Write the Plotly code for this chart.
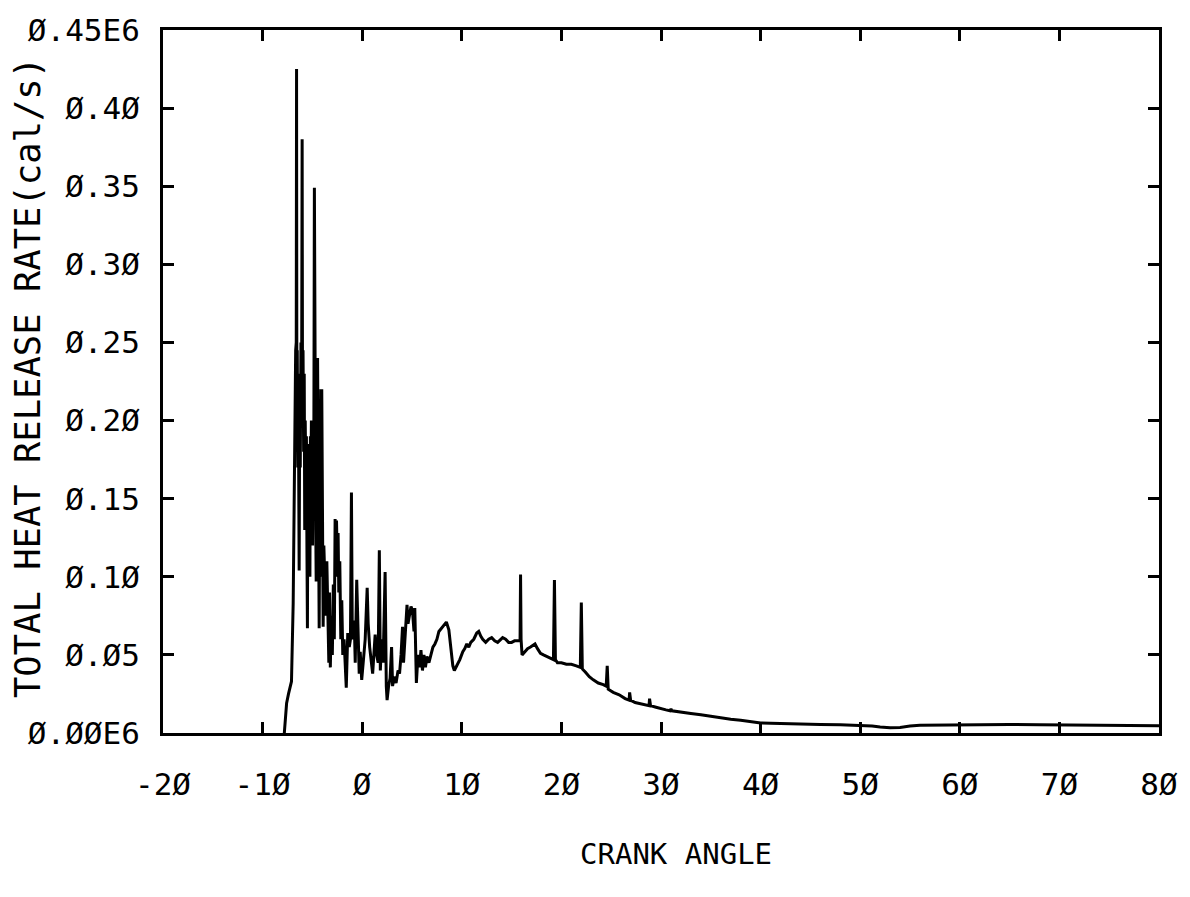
import plotly.graph_objects as go

# Crank angle (deg) and total heat release rate (units of 1E6 cal/s)
crank_angle = [
    -7.82, -7.7, -7.59, -7.4, -7.26, -7.1, -6.93, -6.85, -6.76, -6.68,
    -6.62, -6.59, -6.56, -6.52, -6.47, -6.42, -6.37, -6.33, -6.28, -6.22,
    -6.15, -6.08, -6.03, -5.99, -5.94, -5.88, -5.82, -5.77, -5.72, -5.66,
    -5.6, -5.55, -5.5, -5.45, -5.4, -5.35, -5.3, -5.25, -5.2, -5.15,
    -5.1, -5.05, -4.98, -4.92, -4.85, -4.8, -4.75, -4.7, -4.66, -4.62,
    -4.57, -4.52, -4.48, -4.43, -4.38, -4.32, -4.27, -4.2, -4.15, -4.1,
    -4.06, -4.0, -3.95, -3.92, -3.85, -3.75, -3.65, -3.55, -3.45, -3.35,
    -3.28, -3.2, -3.1, -3.0, -2.9, -2.8, -2.72, -2.65, -2.58, -2.5,
    -2.42, -2.35, -2.25, -2.15, -2.05, -1.95, -1.82, -1.6, -1.45, -1.3,
    -1.18, -1.08, -1.0, -0.9, -0.8, -0.7, -0.55, -0.45, -0.3, -0.2,
    -0.05, 0.1, 0.3, 0.5, 0.6, 0.75, 0.9, 1.05, 1.3, 1.45,
    1.6, 1.72, 1.82, 1.95, 2.1, 2.3, 2.42, 2.5, 2.65, 2.8,
    2.95, 3.05, 3.2, 3.4, 3.6, 3.75, 3.9, 4.05, 4.15, 4.3,
    4.5, 4.6, 4.75, 4.9, 5.05, 5.2, 5.28, 5.44, 5.6, 5.75,
    5.9, 6.05, 6.2, 6.35, 6.5, 6.7, 6.9, 7.1, 7.3, 7.5,
    7.7, 7.95, 8.2, 8.45, 8.7, 8.9, 9.1, 9.25, 9.5, 9.8,
    10.1, 10.3, 10.5, 10.7, 10.9, 11.2, 11.5, 11.7, 11.9, 12.1,
    12.4, 12.7, 13.0, 13.3, 13.6, 13.9, 14.1, 14.4, 14.7, 15.0,
    15.3, 15.7, 15.85, 15.9, 15.95, 16.05, 16.3, 16.6, 16.9, 17.2,
    17.35, 17.6, 17.9, 18.2, 18.6, 19.0, 19.2, 19.3, 19.4, 19.6,
    20.0, 20.5, 21.0, 21.5, 21.9, 22.0, 22.1, 22.4, 22.8, 23.2,
    23.7, 24.2, 24.5, 24.6, 24.7, 25.2, 25.8, 26.4, 26.8, 26.85,
    26.95, 27.4, 27.8, 28.3, 28.8, 28.85, 28.95, 29.5, 30.0, 30.5,
    30.9, 31.0, 31.1, 32.0, 33.0, 34.0, 35.0, 36.0, 37.0, 38.0,
    39.0, 40.0, 41.0, 42.0, 44.0, 46.0, 48.0, 50.0, 51.2, 52.0,
    53.0, 54.0, 55.0, 56.0, 58.0, 60.0, 62.0, 65.0, 68.0, 70.0,
    72.0, 75.0, 78.0, 80.0,
]
heat_release = [
    0.0, 0.01, 0.019, 0.025, 0.029, 0.033, 0.083, 0.15, 0.2, 0.245,
    0.25, 0.425, 0.2, 0.245, 0.17, 0.23, 0.15, 0.104, 0.2, 0.17,
    0.25, 0.22, 0.38, 0.2, 0.245, 0.18, 0.23, 0.13, 0.2, 0.16,
    0.19, 0.12, 0.067, 0.175, 0.14, 0.185, 0.13, 0.1, 0.19, 0.16,
    0.2, 0.15, 0.12, 0.19, 0.2, 0.349, 0.2, 0.24, 0.13, 0.097,
    0.24, 0.2, 0.24, 0.15, 0.11, 0.067, 0.14, 0.1, 0.22, 0.16,
    0.22, 0.125, 0.09, 0.068, 0.12, 0.1, 0.075, 0.11, 0.06, 0.045,
    0.09, 0.042, 0.075, 0.05, 0.095, 0.06, 0.137, 0.1, 0.136, 0.11,
    0.128, 0.09, 0.11, 0.06, 0.085, 0.05, 0.06, 0.029, 0.064, 0.055,
    0.06, 0.154, 0.068, 0.06, 0.072, 0.045, 0.098, 0.07, 0.038, 0.052,
    0.034, 0.045, 0.06, 0.093, 0.07, 0.055, 0.045, 0.038, 0.063, 0.05,
    0.045, 0.117, 0.04, 0.06, 0.045, 0.103, 0.03, 0.021, 0.03, 0.035,
    0.055, 0.03, 0.036, 0.032, 0.04, 0.038, 0.05, 0.068, 0.045, 0.06,
    0.082, 0.07, 0.075, 0.081, 0.078, 0.065, 0.08, 0.032, 0.05, 0.042,
    0.053, 0.04, 0.05, 0.042, 0.049, 0.045, 0.05, 0.055, 0.057, 0.06,
    0.065, 0.067, 0.069, 0.071, 0.066, 0.055, 0.043, 0.04, 0.043, 0.047,
    0.052, 0.054, 0.057, 0.055, 0.058, 0.06, 0.064, 0.065, 0.062, 0.06,
    0.058, 0.06, 0.061, 0.059, 0.058, 0.06, 0.061, 0.06, 0.058, 0.058,
    0.059, 0.059, 0.059, 0.1015, 0.06, 0.05, 0.052, 0.054, 0.055, 0.056,
    0.057, 0.054, 0.051, 0.05, 0.049, 0.048, 0.047, 0.098, 0.047, 0.045,
    0.045, 0.044, 0.044, 0.043, 0.042, 0.0835, 0.041, 0.039, 0.036, 0.034,
    0.032, 0.031, 0.03, 0.043, 0.028, 0.026, 0.0245, 0.022, 0.021, 0.026,
    0.021, 0.0195, 0.019, 0.018, 0.0175, 0.022, 0.0175, 0.0165, 0.0155, 0.0148,
    0.0142, 0.0155, 0.0142, 0.0132, 0.0125, 0.0117, 0.0108, 0.0095, 0.0088, 0.0082,
    0.0072, 0.0064, 0.0062, 0.006, 0.0057, 0.0054, 0.0053, 0.005, 0.0045, 0.0038,
    0.0034, 0.0036, 0.0045, 0.0049, 0.0051, 0.0053, 0.0055, 0.0055, 0.0053, 0.0052,
    0.0048, 0.0047, 0.0047, 0.0047,
]

x_tickvals = [-20, -10, 0, 10, 20, 30, 40, 50, 60, 70, 80]
x_ticktext = ["-2Ø", "-1Ø", "Ø", "1Ø", "2Ø", "3Ø", "4Ø", "5Ø", "6Ø", "7Ø", "8Ø"]
y_tickvals = [0.0, 0.05, 0.10, 0.15, 0.20, 0.25, 0.30, 0.35, 0.40, 0.45]
y_ticktext = ["Ø.ØØE6", "Ø.Ø5", "Ø.1Ø", "Ø.15", "Ø.2Ø", "Ø.25", "Ø.3Ø", "Ø.35", "Ø.4Ø", "Ø.45E6"]

FONT = "DejaVu Sans Mono"

fig = go.Figure()
fig.add_trace(go.Scatter(
    x=crank_angle, y=heat_release, mode="lines",
    line=dict(color="black", width=3), showlegend=False,
))

fig.update_layout(
    width=1190, height=897,
    margin=dict(l=163, r=30, t=25, b=164),
    paper_bgcolor="white", plot_bgcolor="white",
    font=dict(family=FONT, color="black"),
)
fig.update_xaxes(
    range=[-20, 80], tickvals=x_tickvals, ticktext=x_ticktext,
    ticks="inside", ticklen=11, tickwidth=2.5, tickcolor="black",
    showline=True, linecolor="black", linewidth=3, mirror="ticks",
    showgrid=False, zeroline=False,
    tickfont=dict(family=FONT, size=31, color="black"),
    ticklabelstandoff=22,
)
fig.update_yaxes(
    range=[0, 0.45], tickvals=y_tickvals, ticktext=y_ticktext,
    ticks="inside", ticklen=11, tickwidth=2.5, tickcolor="black",
    showline=True, linecolor="black", linewidth=3, mirror="ticks",
    showgrid=False, zeroline=False,
    tickfont=dict(family=FONT, size=31, color="black"),
    ticklabelstandoff=14,
)

fig.add_annotation(
    text="CRANK ANGLE", xref="paper", yref="paper",
    x=0.5146, y=-0.172, xanchor="center", yanchor="middle",
    showarrow=False, font=dict(family=FONT, size=29, color="black"),
)
fig.add_annotation(
    text="TOTAL HEAT RELEASE RATE(cal/s)", xref="paper", yref="paper",
    x=-0.136, y=0.5056, xanchor="center", yanchor="middle", textangle=-90,
    showarrow=False, font=dict(family=FONT, size=35.5, color="black"),
)

fig.write_html("out.html")
